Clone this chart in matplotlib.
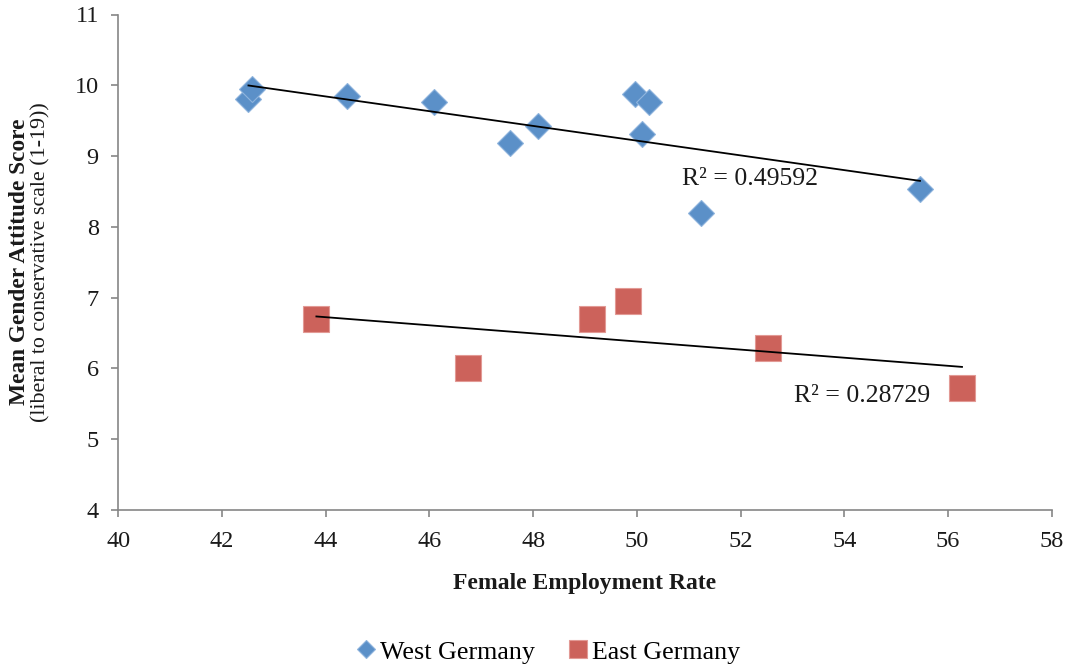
import numpy as np
import matplotlib
matplotlib.use("Agg")
import matplotlib.pyplot as plt

# ---- data ----
west_x = [42.51, 42.58, 44.41, 46.08, 47.56, 48.10, 49.97, 50.24, 50.09, 51.24, 55.46]
west_y = [9.80, 9.95, 9.85, 9.76, 9.19, 9.43, 9.87, 9.77, 9.31, 8.20, 8.53]
east_x = [43.82, 46.74, 49.13, 49.82, 52.52, 56.27]
east_y = [6.70, 6.01, 6.70, 6.95, 6.29, 5.73]
west_r2_label = "R² = 0.49592"
east_r2_label = "R² = 0.28729"
x_ticks = [40, 42, 44, 46, 48, 50, 52, 54, 56, 58]
y_ticks = [4, 5, 6, 7, 8, 9, 10, 11]

plt.rcParams['font.family'] = ['Liberation Serif', 'DejaVu Serif']

W, H = 1072, 670
fig = plt.figure(figsize=(W / 100, H / 100), dpi=100)
ax = fig.add_axes([118.3 / W, 1 - 510 / H, (1051.7 - 118.3) / W, (510 - 14.5) / H])

blue = "#5B90C8"
blue_edge = "#8FB4DD"
red = "#CC625B"
red_edge = "#E29A95"

ax.plot(west_x, west_y, linestyle='none', marker='D', markersize=13.7,
        markerfacecolor=blue, markeredgecolor=blue_edge, markeredgewidth=0.8,
        label="West Germany", zorder=3)
ax.plot(east_x, east_y, linestyle='none', marker='s', markersize=19.0,
        markerfacecolor=red, markeredgecolor=red_edge, markeredgewidth=0.8,
        label="East Germany", zorder=3)

# linear trendlines
for xs, ys in ((west_x, west_y), (east_x, east_y)):
    xs = np.asarray(xs); ys = np.asarray(ys)
    m, b = np.polyfit(xs, ys, 1)
    xx = np.array([xs.min(), xs.max()])
    ax.plot(xx, m * xx + b, color='black', linewidth=1.3, zorder=4)

ax.text(52.18, 8.586, west_r2_label, fontsize=18.5, ha='center', va='baseline', color='#1a1a1a', zorder=5)
ax.text(54.35, 5.528, east_r2_label, fontsize=18.5, ha='center', va='baseline', color='#1a1a1a', zorder=5)

ax.set_xlim(40, 58)
ax.set_ylim(4, 11)
ax.set_xticks(x_ticks)
ax.set_yticks(y_ticks)

spine_c = '#868686'
for s in ['top', 'right']:
    ax.spines[s].set_visible(False)
for s in ['left', 'bottom']:
    ax.spines[s].set_color(spine_c)
    ax.spines[s].set_linewidth(1.2)
ax.tick_params(axis='both', colors=spine_c, labelcolor='#1a1a1a', labelsize=17.5,
               length=5, width=1.2, direction='out')
ax.tick_params(axis='y', pad=9)
ax.tick_params(axis='x', pad=10)

ax.set_xlabel("Female Employment Rate", fontsize=17, fontweight='bold', color='#1a1a1a', labelpad=15)

fig.text(20 / W, 1 - 262 / H, "Mean Gender Attitude Score", rotation=90, fontsize=16.8,
         fontweight='bold', ha='center', va='center', color='#1a1a1a')
fig.text(41 / W, 1 - 262 / H, "(liberal to conservative scale (1-19))", rotation=90, fontsize=15.8,
         ha='center', va='center', color='#1a1a1a')

fig.legend(loc='center', bbox_to_anchor=(548 / W, 1 - 652 / H), ncol=2, frameon=False,
           fontsize=18.7, markerscale=0.66, handlelength=0.75, handletextpad=0.15,
           columnspacing=1.3)

fig.savefig("out.png", dpi=100)
